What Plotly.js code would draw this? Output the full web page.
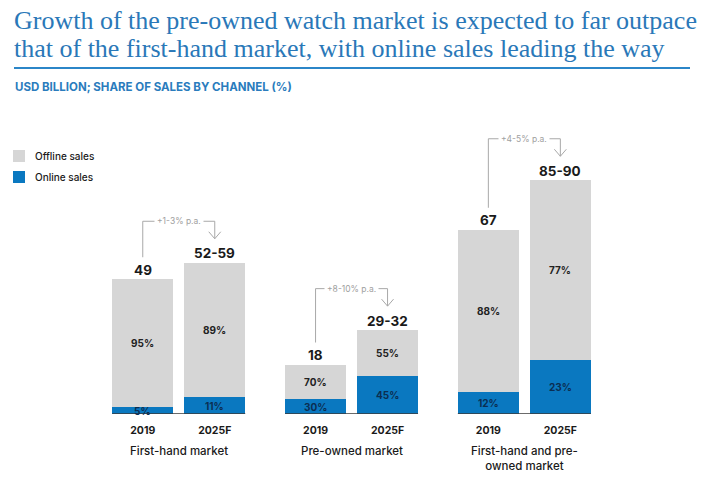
<!DOCTYPE html>
<html>
<head>
<meta charset="utf-8">
<script src="https://cdn.plot.ly/plotly-3.0.1.min.js"></script>
<style>html,body{margin:0;padding:0;background:#fff;}#chart{width:720px;height:488px;}</style>
</head>
<body>
<div id="chart"></div>
<script>
// ---- data ----
var titleLines = ['Growth of the pre-owned watch market is expected to far outpace',
                  'that of the first-hand market, with online sales leading the way'];
var subtitle = 'USD BILLION; SHARE OF SALES BY CHANNEL (%)';
var groupNames = ['First-hand market', 'Pre-owned market', 'First-hand and pre-<br>owned market'];
var years = ['2019', '2025F'];
var barTotals = [49, 55, 18, 30.5, 67, 85];          // plotted bar heights (USD bn)
var totalLabels = ['49', '52-59', '18', '29-32', '67', '85-90'];
var onlineShare = [5, 11, 30, 45, 12, 23];            // %
var offlineShare = [95, 89, 70, 55, 88, 77];          // %
var growthLabels = ['+1-3% p.a.', '+8-10% p.a.', '+4-5% p.a.'];
var seriesNames = ['Offline sales', 'Online sales'];

// ---- geometry helpers ----
var W = 720, H = 488, mT = 100, mB = 74;
var plotH = H - mT - mB;
var pxPerUnitY = 2.75;
var yMax = plotH / pxPerUnitY;
var pxPerUnitX = 72;
var groupSpacing = 2.4;
var barWidth = 61 / pxPerUnitX;
var firstCenterPx = 178.75;
var xMin = -firstCenterPx / pxPerUnitX, xMax = (W - firstCenterPx) / pxPerUnitX;
function py(px) { return px / pxPerUnitY; }
function pxx(px) { return px / pxPerUnitX; }
function paperX(px) { return px / W; }
function paperY(pxTop) { return (H - mB - pxTop) / plotH; }

var xs = [], yearText = [];
groupNames.forEach(function (g, gi) {
  years.forEach(function (y, yi) {
    xs.push(gi * groupSpacing + (yi === 0 ? -0.5 : 0.5));
    yearText.push(y);
  });
});
var onlineVals = barTotals.map(function (t, i) { return t * onlineShare[i] / 100; });
var offlineVals = barTotals.map(function (t, i) { return t - onlineVals[i]; });

var BLUE = '#0a78c0', GRAY = '#d6d6d6', TITLEBLUE = '#2a78b8';
var FONT = 'Inter, "Open Sans", sans-serif';

var traces = [
  { type: 'bar', name: seriesNames[1], x: xs, y: onlineVals, width: barWidth,
    marker: { color: BLUE }, hoverinfo: 'skip', showlegend: false },
  { type: 'bar', name: seriesNames[0], x: xs, y: offlineVals, width: barWidth,
    marker: { color: GRAY }, hoverinfo: 'skip', showlegend: false }
];

var annotations = [], shapes = [];

// title (two lines, controlled spacing)
titleLines.forEach(function (t, i) {
  annotations.push({ xref: 'paper', yref: 'paper', x: paperX(12), y: paperY(20 + i * 28.5),
    xanchor: 'left', yanchor: 'middle', showarrow: false, text: t,
    font: { family: '"Liberation Serif", "DejaVu Serif", serif', size: 26, color: TITLEBLUE } });
});
// title rule
shapes.push({ type: 'line', xref: 'paper', yref: 'paper',
  x0: paperX(14), x1: paperX(690), y0: paperY(68), y1: paperY(68),
  line: { color: '#2b86c8', width: 2 } });
annotations.push({ xref: 'paper', yref: 'paper', x: paperX(13), y: paperY(87),
  xanchor: 'left', yanchor: 'middle', showarrow: false,
  text: '<b>' + subtitle + '</b>',
  font: { family: FONT, size: 11.5, color: '#2a7cbd' } });

// legend (manual)
[GRAY, BLUE].forEach(function (c, i) {
  var top = 150 + i * 21;
  shapes.push({ type: 'rect', xref: 'paper', yref: 'paper', x0: paperX(13), x1: paperX(25),
    y0: paperY(top), y1: paperY(top + 12), fillcolor: c, line: { width: 0 } });
  annotations.push({ xref: 'paper', yref: 'paper', x: paperX(33), y: paperY(top + 6),
    xanchor: 'left', yanchor: 'middle', showarrow: false, text: seriesNames[i],
    font: { family: FONT, size: 10, color: '#1a1a1a', weight: 500 } });
});

xs.forEach(function (x, i) {
  annotations.push({ x: x, y: barTotals[i], yshift: 9.5, yanchor: 'middle', showarrow: false,
    text: totalLabels[i], font: { family: FONT, size: 13.5, color: '#1a1a1a', weight: 700 } });
  annotations.push({ x: x, y: onlineVals[i] + offlineVals[i] / 2, yanchor: 'middle', showarrow: false,
    text: offlineShare[i] + '%', font: { family: FONT, size: 10, color: '#222', weight: 700 } });
  annotations.push({ x: x, y: onlineVals[i] / 2, yanchor: 'middle', showarrow: false,
    text: onlineShare[i] + '%', font: { family: FONT, size: 10, color: '#0b2e52', weight: 700 } });
});

groupNames.forEach(function (g, gi) {
  var xl = xs[gi * 2], xr = xs[gi * 2 + 1];
  var t0 = barTotals[gi * 2], t1 = barTotals[gi * 2 + 1];
  shapes.push({ type: 'line', x0: xl - barWidth / 2, x1: xr + barWidth / 2, y0: 0, y1: 0,
    line: { color: '#3a3a3a', width: 1.5 } });
  var topY = t1 + py(41.5), leftBottom = t0 + py(22), tip = t1 + py(24);
  shapes.push({ type: 'path',
    path: 'M' + xl + ',' + leftBottom + ' L' + xl + ',' + topY + ' L' + xr + ',' + topY + ' L' + xr + ',' + tip,
    line: { color: '#a8a8a8', width: 1 } });
  shapes.push({ type: 'path',
    path: 'M' + (xr - pxx(6)) + ',' + (tip + py(7)) + ' L' + xr + ',' + tip + ' L' + (xr + pxx(6)) + ',' + (tip + py(7)),
    line: { color: '#a8a8a8', width: 1 } });
  annotations.push({ x: (xl + xr) / 2, y: topY, yanchor: 'middle', showarrow: false,
    text: growthLabels[gi], bgcolor: '#ffffff', borderpad: 2,
    font: { family: FONT, size: 8.5, color: '#a0a0a0' } });
  annotations.push({ x: (xl + xr) / 2, y: 0, yref: 'y', yshift: -28, yanchor: 'top', showarrow: false,
    text: g, align: 'center', font: { family: FONT, size: 11.5, color: '#1a1a1a', weight: 500 } });
});

var layout = {
  width: W, height: H,
  margin: { l: 0, r: 0, t: mT, b: mB },
  paper_bgcolor: '#fff', plot_bgcolor: '#fff',
  barmode: 'stack', bargap: 0,
  xaxis: { range: [xMin, xMax], tickvals: xs, ticktext: yearText, showgrid: false, zeroline: false,
    showline: false, ticks: '', ticklabelstandoff: 8,
    tickfont: { family: FONT, size: 10.5, color: '#1a1a1a', weight: 700 }, fixedrange: true },
  yaxis: { range: [0, yMax], visible: false, fixedrange: true },
  showlegend: false,
  shapes: shapes,
  annotations: annotations
};

Plotly.newPlot('chart', traces, layout, { displayModeBar: false, staticPlot: true });
</script>
</body>
</html>
